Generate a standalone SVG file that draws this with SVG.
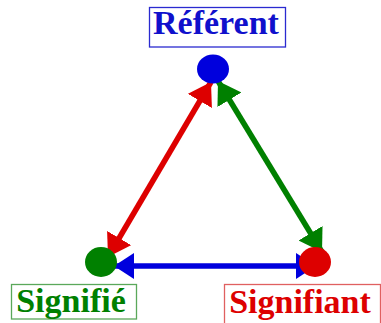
<svg xmlns="http://www.w3.org/2000/svg" width="381" height="323" viewBox="0 0 381 323">
<style>
.lbl{font-family:"Liberation Serif","Times New Roman",serif;font-weight:bold;font-size:34px;text-anchor:middle}
.box{fill:#fff;stroke-width:1.3}
.ln{fill:none;stroke-width:5.5}
</style>
<defs>
<marker id="hr" markerUnits="userSpaceOnUse" markerWidth="22" markerHeight="28" refX="22" refY="14" orient="auto-start-reverse" viewBox="0 0 22 28"><path d="M0,0 L22,14 L0,28 z" fill="#dd0000"/></marker>
<marker id="hg" markerUnits="userSpaceOnUse" markerWidth="22" markerHeight="28" refX="22" refY="14" orient="auto-start-reverse" viewBox="0 0 22 28"><path d="M0,0 L22,14 L0,28 z" fill="#008000"/></marker>
<marker id="hb" markerUnits="userSpaceOnUse" markerWidth="20" markerHeight="26" refX="20" refY="13" orient="auto-start-reverse" viewBox="0 0 20 26"><path d="M0,0 L20,13 L0,26 z" fill="#0000dd"/></marker>
</defs>
<g id="connectors">
<line class="ln" x1="108" y1="257" x2="211" y2="82" stroke="#dd0000" marker-start="url(#hr)" marker-end="url(#hr)"/>
<line class="ln" x1="218" y1="81" x2="322" y2="252" stroke="#008000" marker-start="url(#hg)" marker-end="url(#hg)"/>
<line class="ln" x1="114" y1="266" x2="316" y2="266" stroke="#0000dd" stroke-width="6" marker-start="url(#hb)" marker-end="url(#hb)"/>
</g>
<g id="referent">
<rect class="box" x="149.5" y="7.5" width="136" height="39.5" stroke="#2a2ad0"/>
<text class="lbl" x="216" y="34" fill="#1010cc">Référent</text>
<ellipse cx="213" cy="69" rx="16" ry="14.5" fill="#0000dd"/>
</g>
<g id="signifie">
<rect class="box" x="11.5" y="284.5" width="125" height="34.5" stroke="#5aa85a"/>
<text class="lbl" x="71" y="312" fill="#008000">Signifié</text>
<ellipse cx="101" cy="262" rx="16" ry="15" fill="#008000"/>
</g>
<g id="signifiant">
<rect class="box" x="224.5" y="284.5" width="156" height="45" stroke="#e06060"/>
<text class="lbl" x="300" y="313" fill="#dd0000">Signifiant</text>
<ellipse cx="315" cy="262" rx="16" ry="15" fill="#dd0000"/>
</g>
</svg>
